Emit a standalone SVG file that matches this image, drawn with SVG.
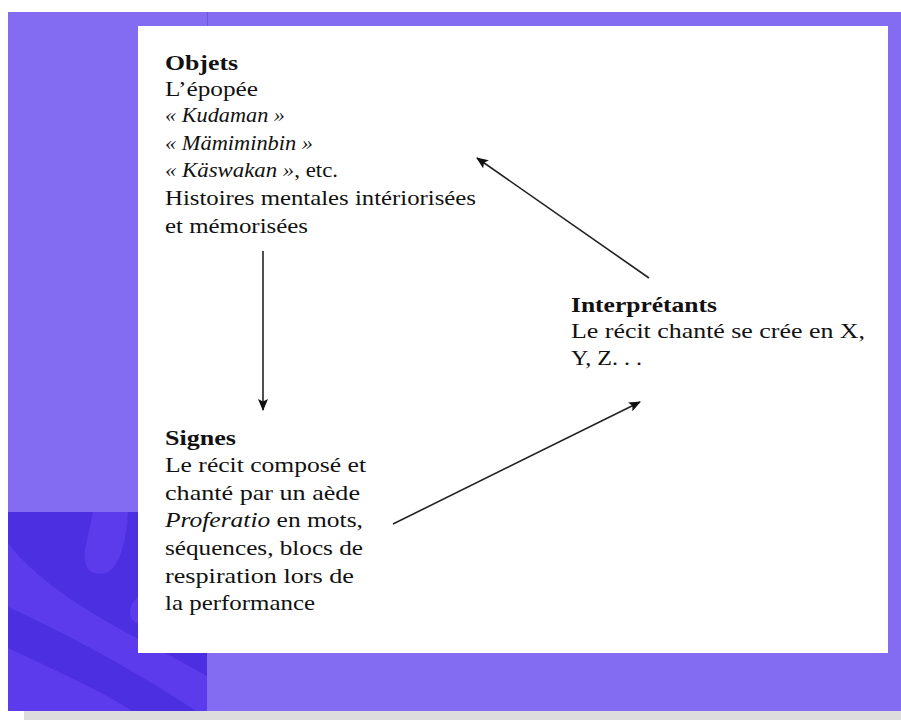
<svg xmlns="http://www.w3.org/2000/svg" width="901" height="720" viewBox="0 0 901 720">
  <style>
    .t { font-family: "Liberation Serif", "Times New Roman", serif; font-size: 22px; fill: #111; }
    .b { font-weight: bold; }
    .i { font-style: italic; }
    .conn { stroke: #222; stroke-width: 1.6; fill: none; }
  </style>
  <defs>
    <marker id="ah" viewBox="0 0 12 10" refX="11" refY="5" markerWidth="12" markerHeight="10" markerUnits="userSpaceOnUse" orient="auto">
      <path d="M0,0 L12,5 L0,10 L2.5,5 Z" fill="#111"/>
    </marker>
    <clipPath id="dk"><rect x="8" y="512" width="199" height="199"/></clipPath>
  </defs>

  <!-- background -->
  <rect x="0" y="0" width="901" height="720" fill="#ffffff"/>
  <rect x="8" y="12" width="893" height="699" fill="#836cf2"/>
  <rect x="24" y="711" width="877" height="9" fill="#dddddd"/>
  <line x1="207.5" y1="12" x2="207.5" y2="26" stroke="#6a58d8" stroke-width="1"/>

  <!-- dark patterned block -->
  <g clip-path="url(#dk)">
    <rect x="8" y="512" width="199" height="199" fill="#4c2fe0"/>
    <path d="M8,543 C40,585 100,620 160,650 L207,676 L207,711 L196,711 C150,680 80,640 8,607 Z" fill="#5b3bec"/>
    <path d="M8,648 C50,668 100,690 132,711 L8,711 Z" fill="#5b3bec"/>
    <path d="M93,512 L128,512 C126,545 118,574 101,574 C86,574 82,562 86,545 Z" fill="#5b3bec"/>
    <path d="M207,589 L150,592 C128,595 122,622 142,625 L207,625 Z" fill="#5b3bec"/>
  </g>

  <!-- white panel -->
  <rect x="138" y="26" width="750" height="627" fill="#ffffff"/>

  <!-- connectors -->
  <g id="connectors">
    <line class="conn" x1="263" y1="251" x2="263" y2="410" marker-end="url(#ah)"/>
    <line class="conn" x1="393" y1="524" x2="640" y2="402" marker-end="url(#ah)"/>
    <line class="conn" x1="649" y1="278" x2="477" y2="158" marker-end="url(#ah)"/>
  </g>

  <!-- nodes -->
  <g id="objets">
    <text class="t b" x="165" y="70" textLength="73" lengthAdjust="spacingAndGlyphs">Objets</text>
    <text class="t" x="165" y="95.5" textLength="93" lengthAdjust="spacingAndGlyphs">L’épopée</text>
    <text class="t i" x="165" y="122" textLength="120" lengthAdjust="spacingAndGlyphs">« Kudaman »</text>
    <text class="t i" x="165" y="149.5" textLength="148" lengthAdjust="spacingAndGlyphs">« Mämiminbin »</text>
    <text class="t" x="165" y="177" textLength="173" lengthAdjust="spacingAndGlyphs"><tspan class="i">« Käswakan »</tspan>, etc.</text>
    <text class="t" x="165" y="205" textLength="311" lengthAdjust="spacingAndGlyphs">Histoires mentales intériorisées</text>
    <text class="t" x="165" y="232.5" textLength="143" lengthAdjust="spacingAndGlyphs">et mémorisées</text>
  </g>

  <g id="signes">
    <text class="t b" x="165" y="445" textLength="71" lengthAdjust="spacingAndGlyphs">Signes</text>
    <text class="t" x="165" y="472" textLength="201" lengthAdjust="spacingAndGlyphs">Le récit composé et</text>
    <text class="t" x="165" y="500" textLength="195" lengthAdjust="spacingAndGlyphs">chanté par un aède</text>
    <text class="t" x="165" y="527" textLength="198" lengthAdjust="spacingAndGlyphs"><tspan class="i">Proferatio</tspan> en mots,</text>
    <text class="t" x="165" y="555" textLength="198" lengthAdjust="spacingAndGlyphs">séquences, blocs de</text>
    <text class="t" x="165" y="583" textLength="189" lengthAdjust="spacingAndGlyphs">respiration lors de</text>
    <text class="t" x="165" y="610" textLength="150" lengthAdjust="spacingAndGlyphs">la performance</text>
  </g>

  <g id="interpretants">
    <text class="t b" x="571" y="312" textLength="146" lengthAdjust="spacingAndGlyphs">Interprétants</text>
    <text class="t" x="571" y="338" textLength="294" lengthAdjust="spacingAndGlyphs">Le récit chanté se crée en X,</text>
    <text class="t" x="571" y="365" textLength="71" lengthAdjust="spacingAndGlyphs">Y, Z. . .</text>
  </g>
</svg>
